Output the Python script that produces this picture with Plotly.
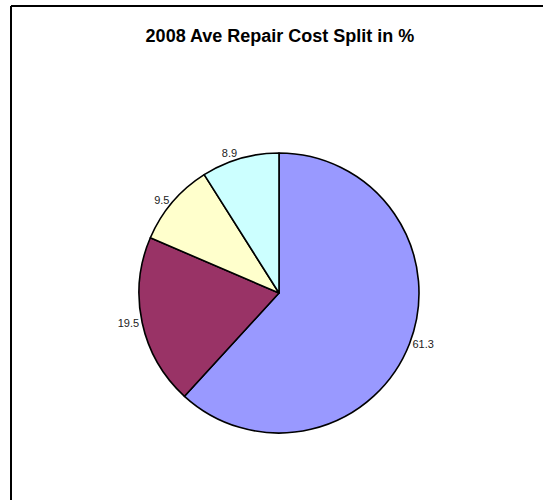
import plotly.graph_objects as go

categories = ["A", "B", "C", "D"]
values = [61.3, 19.5, 9.5, 8.9]
colors = ["#9999FF", "#993366", "#FFFFCC", "#CCFFFF"]
title = "2008 Ave Repair Cost Split in %"

W, H = 543, 500
cx, cy, r = 279, 293, 140

fig = go.Figure(go.Pie(
    labels=categories,
    values=values,
    text=[f"{v:.1f}" for v in values],
    textinfo="text",
    textposition="outside",
    sort=False,
    direction="clockwise",
    rotation=0,
    marker=dict(colors=colors, line=dict(color="black", width=1.6)),
    textfont=dict(family="Liberation Sans, Arial", size=11, color="#222222"),
    domain=dict(x=[(cx - r) / W, (cx + r) / W], y=[1 - (cy + r) / H, 1 - (cy - r) / H]),
    showlegend=False,
    hoverinfo="skip",
))

fig.update_layout(
    width=W, height=H,
    margin=dict(l=0, r=0, t=0, b=0),
    paper_bgcolor="white",
    title=dict(text=f"<b>{title}</b>", x=280 / W, xanchor="center",
               y=1 - 36 / H, yanchor="middle",
               font=dict(family="Liberation Sans, Arial", size=18, color="black")),
    shapes=[
        dict(type="line", xref="paper", yref="paper", x0=11 / W, x1=1.05,
             y0=1 - 6 / H, y1=1 - 6 / H, line=dict(color="black", width=2)),
        dict(type="line", xref="paper", yref="paper", x0=11 / W, x1=11 / W,
             y0=-0.05, y1=1 - 6 / H, line=dict(color="black", width=2)),
    ],
)

fig.write_html("out.html", config={"displayModeBar": False},
               post_script="document.body.style.margin='0';document.body.style.overflow='hidden';")
